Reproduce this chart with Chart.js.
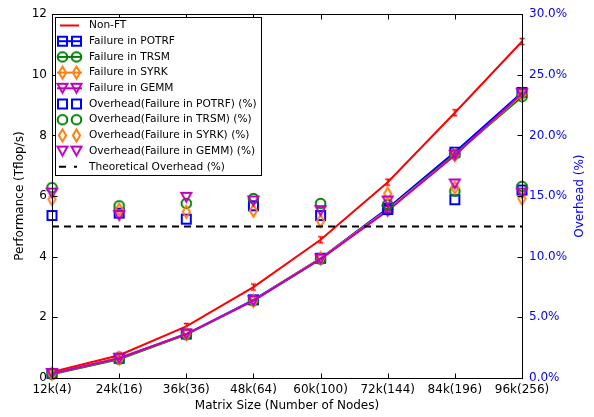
<!DOCTYPE html>
<html><head><meta charset="utf-8">
<script src="https://cdn.jsdelivr.net/npm/chart.js@4.4.1/dist/chart.umd.min.js"></script>
<style>html,body{margin:0;padding:0;background:#fff;} #wrap{width:594px;height:417px;position:relative;}</style>
</head><body><div id="wrap"><canvas id="c"></canvas></div>
<script>
const categories = ['12k(4)','24k(16)','36k(36)','48k(64)','60k(100)','72k(144)','84k(196)','96k(256)'];
const perfNonFT = [0.2, 0.75, 1.7, 3.0, 4.56, 6.46, 8.75, 11.1];
const perfPOTRF = [0.15, 0.65, 1.45, 2.58, 3.95, 5.6, 7.45, 9.42];
const perfTRSM  = [0.12, 0.62, 1.43, 2.55, 3.92, 5.55, 7.38, 9.28];
const perfSYRK  = [0.15, 0.65, 1.45, 2.55, 3.95, 5.55, 7.35, 9.35];
const perfGEMM  = [0.15, 0.65, 1.45, 2.55, 3.93, 5.52, 7.35, 9.38];
const ovPOTRF = [13.4, 13.6, 13.1, 14.2, 13.4, 13.9, 14.7, 15.5];
const ovTRSM  = [15.7, 14.2, 14.4, 14.8, 14.4, 14.3, 15.4, 15.8];
const ovSYRK  = [14.75, 13.9, 13.7, 13.8, 12.95, 15.2, 15.7, 14.8];
const ovGEMM  = [15.25, 13.4, 14.9, 14.6, 13.8, 14.6, 16.0, 15.25];
const ovTheory = [12.5, 12.5, 12.5, 12.5, 12.5, 12.5, 12.5, 12.5];
const perfTicks = [0, 2, 4, 6, 8, 10, 12];
const ovTicks = [0, 5, 10, 15, 20, 25, 30];

const FONT = "'DejaVu Sans',sans-serif";
const BLUE='#0000ff', GREEN='#008000', ORANGE='#ff7f0e', MAG='#bf00bf', RED='#ff0000';

function makeMarker(kind, color) {
  const c = document.createElement('canvas'); c.width = 17; c.height = 17;
  const g = c.getContext('2d'); g.strokeStyle = color; g.lineWidth = 2; g.beginPath();
  const cx = 8.5, cy = 8.5;
  switch (kind) {
    case 'square': g.rect(cx-4.5, cy-4.5, 9, 9); break;
    case 'circle': g.arc(cx, cy, 4.8, 0, Math.PI*2); break;
    case 'diamond': g.moveTo(cx, cy-6); g.lineTo(cx+3.6, cy); g.lineTo(cx, cy+6); g.lineTo(cx-3.6, cy); g.closePath(); break;
    case 'tri': g.moveTo(cx-5, cy-4.5); g.lineTo(cx+5, cy-4.5); g.lineTo(cx, cy+4.5); g.closePath(); break;
    case 'err': g.lineWidth=1.5; g.moveTo(cx, cy-3); g.lineTo(cx, cy+3); g.moveTo(cx-2.5, cy-3); g.lineTo(cx+2.5, cy-3); g.moveTo(cx-2.5, cy+3); g.lineTo(cx+2.5, cy+3); break;
  }
  g.stroke(); return c;
}
const M = {
  sqB: makeMarker('square', BLUE), ciG: makeMarker('circle', GREEN),
  diO: makeMarker('diamond', ORANGE), trM: makeMarker('tri', MAG), err: makeMarker('err', RED)
};

function lineDS(label, data, color, marker, order) {
  return { label, data, yAxisID: 'y', borderColor: color, backgroundColor: 'rgba(0,0,0,0)', borderWidth: 2,
    pointStyle: marker, pointRadius: 5, tension: 0, clip: false, order, legendKind: 'lineMarker', marker };
}
function ovDS(label, data, color, marker, order) {
  return { label, data, yAxisID: 'y2', borderColor: color, backgroundColor: 'rgba(0,0,0,0)', showLine: false,
    pointStyle: marker, pointRadius: 5, clip: false, order, legendKind: 'marker', marker };
}

const datasets = [
  { label: 'Non-FT', data: perfNonFT, yAxisID: 'y', borderColor: RED, backgroundColor: 'rgba(0,0,0,0)', borderWidth: 2,
    pointStyle: M.err, pointRadius: 3, tension: 0, clip: false, order: 10, legendKind: 'line' },
  lineDS('Failure in POTRF', perfPOTRF, BLUE, M.sqB, 9),
  lineDS('Failure in TRSM', perfTRSM, GREEN, M.ciG, 8),
  lineDS('Failure in SYRK', perfSYRK, ORANGE, M.diO, 7),
  lineDS('Failure in GEMM', perfGEMM, MAG, M.trM, 6),
  ovDS('Overhead(Failure in POTRF) (%)', ovPOTRF, BLUE, M.sqB, 5),
  ovDS('Overhead(Failure in TRSM) (%)', ovTRSM, GREEN, M.ciG, 4),
  ovDS('Overhead(Failure in SYRK) (%)', ovSYRK, ORANGE, M.diO, 3),
  ovDS('Overhead(Failure in GEMM) (%)', ovGEMM, MAG, M.trM, 2),
  { label: 'Theoretical Overhead (%)', data: ovTheory, yAxisID: 'y2', borderColor: '#000', borderWidth: 2,
    borderDash: [7, 5], pointRadius: 0, tension: 0, clip: false, order: 1, legendKind: 'dash' }
];

const framePlugin = {
  id: 'frame',
  afterDatasetsDraw(chart) {
    const { ctx, chartArea: a, scales } = chart;
    ctx.save();
    ctx.strokeStyle = '#000'; ctx.lineWidth = 1;
    const L = Math.round(a.left)+0.5, R = Math.round(a.right)+0.5, T = Math.round(a.top)+0.5, B = Math.round(a.bottom)+0.5;
    ctx.strokeRect(L, T, R-L, B-T);
    ctx.beginPath();
    const tl = 5;
    scales.x.ticks.forEach((t, i) => {
      const x = Math.round(scales.x.getPixelForTick(i)) + 0.5;
      ctx.moveTo(x, B); ctx.lineTo(x, B - tl);
      ctx.moveTo(x, T); ctx.lineTo(x, T + tl);
    });
    scales.y.ticks.forEach((t) => {
      const y = Math.round(scales.y.getPixelForValue(t.value)) + 0.5;
      ctx.moveTo(L, y); ctx.lineTo(L + tl, y);
    });
    scales.y2.ticks.forEach((t) => {
      const y = Math.round(scales.y2.getPixelForValue(t.value)) + 0.5;
      ctx.moveTo(R, y); ctx.lineTo(R - tl, y);
    });
    ctx.stroke();
    ctx.restore();
  },
  afterDraw(chart) {
    const { ctx, chartArea: a } = chart;
    ctx.save();
    ctx.fillStyle = BLUE; ctx.font = '12px ' + FONT; ctx.textAlign = 'center'; ctx.textBaseline = 'middle';
    ctx.translate(580, (a.top + a.bottom) / 2); ctx.rotate(-Math.PI / 2);
    ctx.fillText('Overhead (%)', 0, 0);
    ctx.restore();
    ctx.save();
    const bx = 55.5, by = 17.5, bw = 206, bh = 158;
    ctx.fillStyle = '#fff'; ctx.fillRect(bx, by, bw, bh);
    ctx.strokeStyle = '#000'; ctx.lineWidth = 1; ctx.strokeRect(bx, by, bw, bh);
    ctx.font = '10.6px ' + FONT; ctx.textBaseline = 'middle'; ctx.textAlign = 'left';
    chart.data.datasets.forEach((ds, i) => {
      const y = 25.5 + i * 15.7;
      const x0 = 57, x1 = 82, m0 = 62.5, m1 = 76.5;
      ctx.lineWidth = 2; ctx.strokeStyle = ds.borderColor; ctx.setLineDash([]);
      if (ds.legendKind === 'line' || ds.legendKind === 'lineMarker') {
        ctx.beginPath(); ctx.moveTo(x0 + (ds.legendKind==='line'?3:0), y); ctx.lineTo(x1 - (ds.legendKind==='line'?3:0), y); ctx.stroke();
      }
      if (ds.legendKind === 'dash') {
        ctx.beginPath(); ctx.moveTo(59, y); ctx.lineTo(66, y); ctx.moveTo(74, y); ctx.lineTo(77, y); ctx.stroke();
      }
      if (ds.marker) {
        ctx.drawImage(ds.marker, m0 - 8.5, y - 8.5);
        ctx.drawImage(ds.marker, m1 - 8.5, y - 8.5);
      }
      ctx.fillStyle = '#000';
      ctx.fillText(ds.label, 89, y);
    });
    ctx.restore();
  }
};

new Chart(document.getElementById('c'), {
  type: 'line',
  data: { labels: categories, datasets },
  plugins: [framePlugin],
  options: {
    responsive: true, maintainAspectRatio: false, animation: false,
    layout: { padding: { top: 12, left: 0, right: 0, bottom: 0 } },
    plugins: { legend: { display: false }, tooltip: { enabled: false } },
    scales: {
      x: {
        type: 'category', offset: false,
        grid: { display: false, drawTicks: false }, border: { display: false },
        ticks: { color: '#000', font: { family: FONT, size: 12 }, padding: 5, maxRotation: 0, autoSkip: false },
        title: { display: true, text: 'Matrix Size (Number of Nodes)', color: '#000', font: { family: FONT, size: 12 }, padding: { top: 0, bottom: 4 } },
        afterFit(s) { s.height = 39; }
      },
      y: {
        position: 'left', min: 0, max: 12,
        afterBuildTicks(s) { s.ticks = perfTicks.map(v => ({ value: v })); },
        grid: { display: false, drawTicks: false }, border: { display: false },
        ticks: { color: '#000', font: { family: FONT, size: 12 }, padding: 5 },
        title: { display: true, text: 'Performance (Tflop/s)', color: '#000', font: { family: FONT, size: 12 }, padding: { top: 13, bottom: 0 } },
        afterFit(s) { s.width = 52; }
      },
      y2: {
        position: 'right', min: 0, max: 30,
        afterBuildTicks(s) { s.ticks = ovTicks.map(v => ({ value: v })); },
        grid: { display: false, drawTicks: false }, border: { display: false },
        ticks: { color: BLUE, font: { family: FONT, size: 12 }, padding: 7, callback: v => v.toFixed(1) + '%' },
        afterFit(s) { s.width = 72; }
      }
    }
  }
});
</script>
</body></html>
